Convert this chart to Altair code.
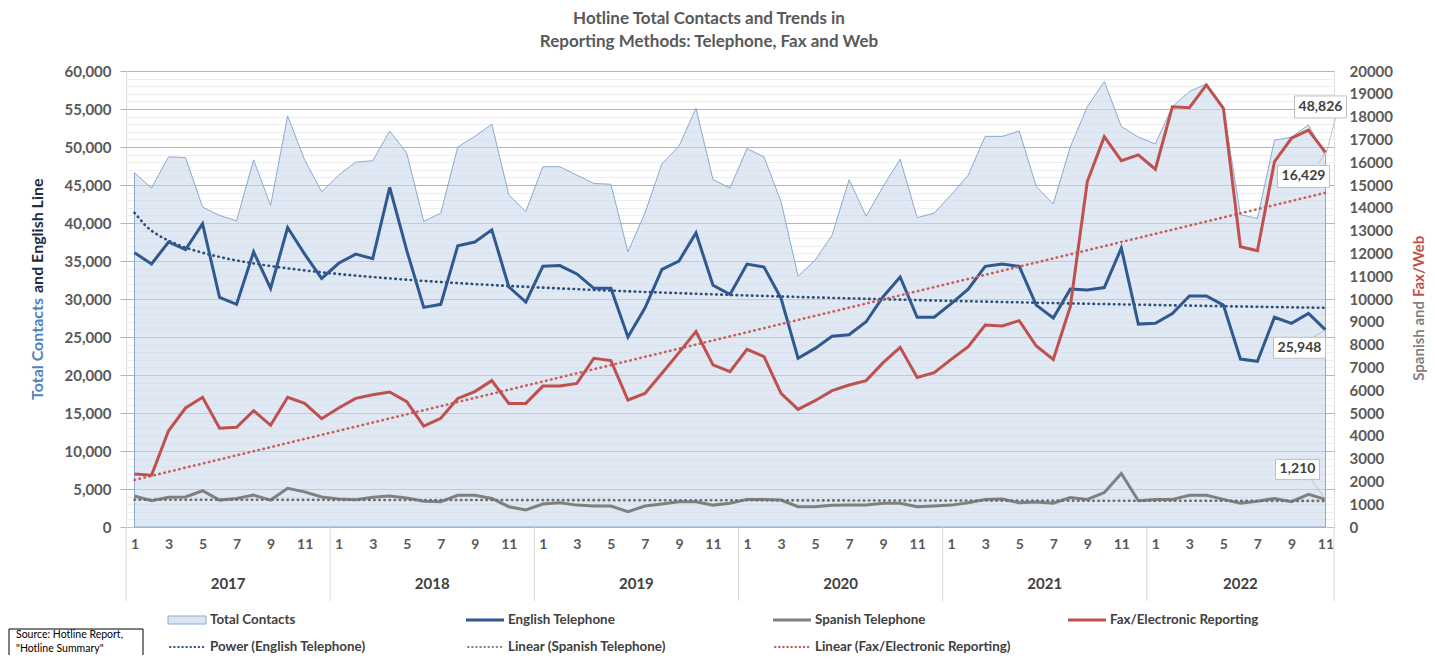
import altair as alt
import pandas as pd

# ---------------- data ----------------
years = [2017, 2018, 2019, 2020, 2021, 2022]
months_in_year = [12, 12, 12, 12, 12, 11]

total_contacts = [46600, 44600, 48700, 48600, 42100, 41000, 40300, 48300, 42300, 54100, 48300, 44100,
                  46300, 48000, 48200, 52100, 49200, 40200, 41300, 50000, 51400, 53000, 43700, 41500,
                  47400, 47400, 46300, 45200, 45100, 36200, 41300, 47800, 50100, 55100, 45700, 44600,
                  49800, 48700, 42800, 33000, 35100, 38400, 45700, 40900, 44800, 48400, 40700, 41300,
                  43700, 46300, 51400, 51400, 52100, 44800, 42500, 50000, 55300, 58600, 52700, 51300,
                  50400, 55300, 57300, 58300, 55100, 41100, 40600, 50900, 51300, 52900, 48826]

english_tel = [36100, 34600, 37500, 36500, 39900, 30200, 29300, 36200, 31400, 39400, 35900, 32700,
               34700, 35900, 35300, 44700, 36400, 28900, 29300, 37000, 37500, 39100, 31600, 29600,
               34300, 34400, 33300, 31400, 31400, 25000, 28800, 33900, 35000, 38700, 31800, 30600,
               34600, 34200, 30100, 22200, 23500, 25100, 25300, 27000, 30300, 32900, 27600, 27600,
               29400, 31300, 34300, 34600, 34300, 29200, 27500, 31300, 31200, 31500, 36700, 26700,
               26800, 28100, 30400, 30400, 29200, 22100, 21800, 27600, 26800, 28100, 25948]

spanish_tel = [1360, 1150, 1300, 1320, 1590, 1180, 1250, 1400, 1180, 1700, 1540, 1320,
               1230, 1200, 1300, 1360, 1270, 1130, 1110, 1390, 1390, 1250, 890, 750,
               1010, 1060, 960, 920, 920, 670, 920, 1010, 1110, 1110, 960, 1040,
               1210, 1210, 1180, 890, 890, 950, 960, 960, 1040, 1040, 890, 920,
               960, 1060, 1210, 1230, 1060, 1100, 1040, 1290, 1210, 1510, 2350, 1150,
               1210, 1210, 1390, 1390, 1210, 1040, 1130, 1250, 1110, 1430, 1210]

fax_web = [2320, 2270, 4220, 5220, 5690, 4330, 4370, 5100, 4460, 5690, 5420, 4750,
           5220, 5640, 5800, 5920, 5500, 4430, 4770, 5640, 5940, 6420, 5420, 5420,
           6180, 6180, 6300, 7400, 7300, 5570, 5860, 6740, 7650, 8570, 7110, 6810,
           7790, 7470, 5860, 5160, 5540, 5980, 6230, 6420, 7210, 7880, 6560, 6770,
           7350, 7910, 8860, 8820, 9050, 7940, 7350, 9660, 15150, 17120, 16070, 16320,
           15690, 18430, 18390, 19390, 18360, 12290, 12120, 16020, 17050, 17410, 16429]

left_ticks = list(range(0, 60001, 1000))
right_ticks = list(range(0, 20001, 1000))

recs = []
i = 0
for yr, n in zip(years, months_in_year):
    for m in range(1, n + 1):
        recs.append({"idx": i, "t": i + 1, "year": yr, "month": m,
                     "total": total_contacts[i], "english": english_tel[i],
                     "spanish": spanish_tel[i], "fax": fax_web[i]})
        i += 1
df = pd.DataFrame(recs)
N = len(df)
LAST = N - 1

yr_rows = []
start = 0
for yr, n in zip(years, months_in_year):
    yr_rows.append({"year": str(yr), "lo": start - 0.5, "hi": start + n - 0.5,
                    "mid": start + (n - 1) / 2})
    start += n
yrdf = pd.DataFrame(yr_rows)
bounds = pd.DataFrame({"b": sorted(set(yrdf["lo"]) | set(yrdf["hi"]))})
month_ticks = [r["idx"] for r in recs if r["month"] % 2 == 1]

# ---------------- style ----------------
W, H = 1208, 456
FONT = "Lato"
GRAY = "#595959"
BLUE = "#30598f"
BLUE_TR = "#2c4f7c"
SGRAY = "#808080"
RED = "#c0504d"
AREA_FILL = "#c9d8eb"
AREA_STROKE = "#8aaad3"
ONE = alt.Data(values=[{}])

xs = alt.Scale(domain=[-0.5, N - 0.5], nice=False, zero=False)
X_AXIS = alt.Axis(
    values=month_ticks, tickCount=len(month_ticks),
    labelExpr="'' + ((datum.value % 12) + 1)",
    ticks=False, domain=True, domainColor="#bfbfbf", grid=False, title=None,
    labelFont=FONT, labelFontSize=14, labelFontWeight="bold", labelColor=GRAY,
    labelPadding=10, labelFlush=False, labelOverlap=False, labelBound=False)


def X(field):
    return alt.X(f"{field}:Q", scale=xs, axis=X_AXIS, title=None)


yl = alt.Scale(domain=[0, 60000], nice=False, zero=True)
yr_s = alt.Scale(domain=[0, 20000], nice=False, zero=True)

left_axis = alt.Axis(
    values=left_ticks, tickCount=len(left_ticks),
    labelExpr="datum.value % 5000 === 0 ? format(datum.value, ',') : ''",
    grid=True,
    gridColor={"condition": {"test": "datum.value % 5000 === 0", "value": "#b4b4b4"}, "value": "#ededed"},
    tickColor={"condition": {"test": "datum.value % 5000 === 0", "value": "#b4b4b4"}, "value": "transparent"},
    tickSize=6, domain=False, title=None,
    labelFont=FONT, labelFontSize=15, labelFontWeight="bold", labelColor=GRAY,
    labelPadding=9, labelOverlap=False, labelFlush=False, labelBound=False)

right_axis = alt.Axis(
    orient="right", values=right_ticks, tickCount=len(right_ticks), format="d",
    grid=False, ticks=False, domain=False, title=None, labelFont=FONT, labelFontSize=15,
    labelFontWeight="bold", labelColor=GRAY, labelPadding=15, labelOverlap=False,
    labelFlush=False, labelBound=False)

base = alt.Chart(df)
DOT = dict(strokeWidth=2.6, strokeDash=[0.5, 4.6], strokeCap="round")

# ---------------- left-axis series ----------------
area = base.mark_area(fill=AREA_FILL, fillOpacity=0.6, stroke=AREA_STROKE, strokeWidth=1).encode(
    x=X("idx"), y=alt.Y("total:Q", scale=yl, axis=left_axis))

eng_tr = base.transform_regression("t", "english", method="pow").transform_calculate(
    idx="datum.t - 1").mark_line(color=BLUE_TR, **DOT).encode(
    x=X("idx"), y=alt.Y("english:Q", scale=yl, axis=left_axis))

eng = base.mark_line(color=BLUE, strokeWidth=3).encode(
    x=X("idx"), y=alt.Y("english:Q", scale=yl, axis=left_axis))


def callout(field, scale, axis, dx, dy, w, h, lx, ly):
    src = base.transform_filter(f"datum.idx == {LAST}")
    enc = dict(x=X("idx"), y=alt.Y(f"{field}:Q", scale=scale, axis=axis))
    lead = src.mark_rule(color="#bfbfbf", strokeWidth=1, x2Offset=lx, y2Offset=ly).encode(
        x2=alt.X2("idx"), y2=alt.Y2(field), **enc)
    box = src.mark_rect(width=w, height=h, fill="white", stroke="#bfbfbf", strokeWidth=1,
                        xOffset=dx, yOffset=dy).encode(**enc)
    txt = src.mark_text(font=FONT, fontSize=14, fontWeight="bold", color="#404040",
                        dx=dx, dy=dy, baseline="middle", align="center").encode(
        text=alt.Text(f"{field}:Q", format=","), **enc)
    return [lead, box, txt]


# ---------------- decorations (pixel positions relative to plot origin) ----------------
def text_at(label, x, y, size, color, weight="bold", align="center", angle=0, baseline="middle"):
    kw = dict(font=FONT, fontSize=size, fontWeight=weight, color=color, align=align,
              baseline=baseline)
    if angle:
        kw["angle"] = angle
    return alt.Chart(ONE).mark_text(**kw).encode(
        x=alt.value(x), y=alt.value(y), text=alt.value(label))


deco = []
# title
deco.append(text_at("Hotline Total Contacts and Trends in", 583, -52, 17, GRAY))
deco.append(text_at("Reporting Methods: Telephone, Fax and Web", 583, -29, 17, GRAY))
# axis titles (two colours each)
deco.append(text_at("Total Contacts", -88, 227, 16, "#4f81bd", align="right", angle=270))
deco.append(text_at("and English Line", -88, 222, 16, "#1f2a44", align="left", angle=270))
deco.append(text_at("Spanish and", 1293, 230, 15, "#7f7f7f", align="right", angle=270))
deco.append(text_at("Fax/Web", 1293, 226, 15, RED, align="left", angle=270))

# year separators and year labels
seps = alt.Chart(bounds).mark_rule(color="#d9d9d9", strokeWidth=1).encode(
    x=X("b"), y=alt.value(H), y2=alt.value(H + 74))
yl_txt = alt.Chart(yrdf).mark_text(font=FONT, fontSize=15, fontWeight="bold", color="#404040",
                                   baseline="middle").encode(
    x=X("mid"), y=alt.value(H + 57), text="year:N")
deco += [seps, yl_txt]

# legend
legend_items = [
    ("Total Contacts", "area", AREA_FILL, 0, 0),
    ("English Telephone", "line", BLUE, 1, 0),
    ("Spanish Telephone", "line", SGRAY, 2, 0),
    ("Fax/Electronic Reporting", "line", RED, 3, 0),
    ("Power (English Telephone)", "dot", BLUE_TR, 0, 1),
    ("Linear (Spanish Telephone)", "dot", SGRAY, 1, 1),
    ("Linear (Fax/Electronic Reporting)", "dot", RED, 2, 1),
]
col_x = [42, 340, 647, 942]
row_y = [549, 576]
for label, kind, color, c, r in legend_items:
    x0, yc = col_x[c], row_y[r]
    if kind == "area":
        deco.append(alt.Chart(ONE).mark_rect(fill="#dce6f2", stroke=AREA_STROKE, strokeWidth=1).encode(
            x=alt.value(x0), x2=alt.value(x0 + 38), y=alt.value(yc - 4), y2=alt.value(yc + 4)))
    elif kind == "line":
        deco.append(alt.Chart(ONE).mark_rule(color=color, strokeWidth=3).encode(
            x=alt.value(x0), x2=alt.value(x0 + 38), y=alt.value(yc)))
    else:
        deco.append(alt.Chart(ONE).mark_rule(color=color, strokeWidth=2, strokeDash=[0.5, 3.6],
                                             strokeCap="round").encode(
            x=alt.value(x0 + 2), x2=alt.value(x0 + 38), y=alt.value(yc)))
    deco.append(text_at(label, x0 + 42, yc, 13.4, "#404040", align="left"))

# source box
deco.append(alt.Chart(ONE).mark_rect(fill="white", stroke="#000000", strokeWidth=1).encode(
    x=alt.value(-117), x2=alt.value(17), y=alt.value(558), y2=alt.value(610)))
deco.append(text_at("Source: Hotline Report,", -110, 564, 10.5, "#000000", weight="normal", align="left"))
deco.append(text_at("\"Hotline Summary\"", -110, 578, 10.5, "#000000", weight="normal", align="left"))

left = alt.layer(area, eng_tr, eng,
                 *callout("total", yl, left_axis, -5, -49, 52, 22, 10, -38),
                 *callout("english", yl, left_axis, -26, 18, 52, 21, -13, 8),
                 *deco)

# ---------------- right-axis series ----------------
sp = base.mark_line(color=SGRAY, strokeWidth=3).encode(
    x=X("idx"), y=alt.Y("spanish:Q", scale=yr_s, axis=right_axis))
sp_tr = base.transform_regression("t", "spanish", method="linear").transform_calculate(
    idx="datum.t - 1").mark_line(color="#6f6f6f", **DOT).encode(
    x=X("idx"), y=alt.Y("spanish:Q", scale=yr_s, axis=right_axis))
fx = base.mark_line(color=RED, strokeWidth=3).encode(
    x=X("idx"), y=alt.Y("fax:Q", scale=yr_s, axis=right_axis))
fx_tr = base.transform_regression("t", "fax", method="linear").transform_calculate(
    idx="datum.t - 1").mark_line(color="#c9605d", **DOT).encode(
    x=X("idx"), y=alt.Y("fax:Q", scale=yr_s, axis=right_axis))

right = alt.layer(sp, sp_tr, fx_tr, fx,
                  *callout("fax", yr_s, right_axis, -22, 24, 52, 22, -7, 11),
                  *callout("spanish", yr_s, right_axis, -28, -30, 44, 20, -15, -21))

chart = alt.layer(left, right).resolve_scale(y="independent").properties(
    width=W, height=H,
    padding={"left": 118, "top": 63, "right": 93, "bottom": 128},
    autosize=alt.AutoSizeParams(type="none"),
).configure_view(stroke=None).configure(font=FONT)

chart.save("out.html", embed_options={"renderer": "svg", "actions": False})
